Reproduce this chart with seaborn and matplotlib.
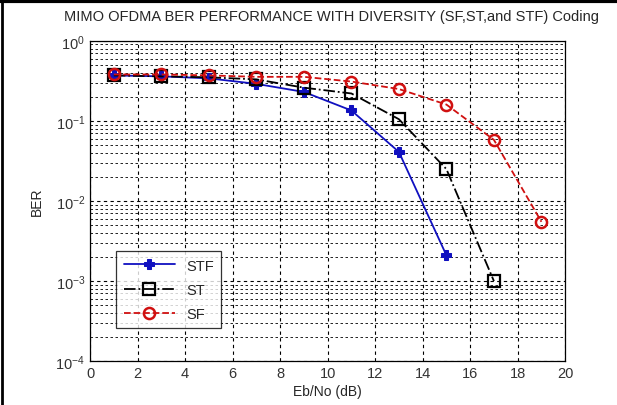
import numpy as np
import pandas as pd
import matplotlib
matplotlib.use('Agg')
import matplotlib.pyplot as plt
import seaborn as sns
from matplotlib.lines import Line2D

ebno = [1, 3, 5, 7, 9, 11, 13, 15, 17, 19]
ber_stf = [0.37, 0.36, 0.34, 0.29, 0.23, 0.135, 0.041, 0.0021]
ber_st = [0.37, 0.36, 0.35, 0.33, 0.26, 0.22, 0.105, 0.025, 0.001]
ber_sf = [0.38, 0.38, 0.37, 0.355, 0.355, 0.31, 0.25, 0.16, 0.058, 0.0055]

sns.set_style('white')
plt.rcParams['font.family'] = ['Liberation Sans', 'DejaVu Sans']
plt.rcParams['mathtext.fontset'] = 'custom'
plt.rcParams['mathtext.rm'] = 'Liberation Sans'
plt.rcParams['mathtext.it'] = 'Liberation Sans'

fig = plt.figure(figsize=(6.17, 4.06), dpi=100)
ax = fig.add_axes([0.146, 0.108, 0.77, 0.789])

stf = pd.DataFrame({'x': ebno[:len(ber_stf)], 'y': ber_stf})
st = pd.DataFrame({'x': ebno[:len(ber_st)], 'y': ber_st})
sf = pd.DataFrame({'x': ebno[:len(ber_sf)], 'y': ber_sf})

sns.lineplot(data=stf, x='x', y='y', ax=ax, color='#1010c0', linestyle='-',
             marker='P', markersize=7, markeredgecolor='#1010c0', lw=1.3, label='STF')
sns.lineplot(data=st, x='x', y='y', ax=ax, color='black', linestyle='-.',
             marker='s', markersize=8, markerfacecolor='none', markeredgecolor='black',
             markeredgewidth=1.6, lw=1.3, label='ST')
sns.lineplot(data=sf, x='x', y='y', ax=ax, color='#d01010', linestyle='--',
             marker='o', markersize=8, markerfacecolor='none', markeredgecolor='#d01010',
             markeredgewidth=1.8, lw=1.3, label='SF')

ax.set_yscale('log')
ax.set_xlim(0, 20)
ax.set_ylim(1e-4, 1)
ax.set_xticks(range(0, 21, 2))
ax.set_yticks([1e-4, 1e-3, 1e-2, 1e-1, 1])
ax.set_yticklabels(['$10^{-4}$', '$10^{-3}$', '$10^{-2}$', '$10^{-1}$', '$10^{0}$'])
ax.yaxis.set_minor_locator(matplotlib.ticker.LogLocator(base=10, subs=np.arange(2, 10)))
ax.yaxis.set_minor_formatter(matplotlib.ticker.NullFormatter())

ax.grid(True, which='major', axis='both', color='black', linestyle=(0, (3, 3)), lw=0.8)
ax.grid(True, which='minor', axis='y', color='black', linestyle=(0, (3, 3)), lw=0.6)
ax.tick_params(axis='both', which='both', direction='in', labelsize=10.5, colors='#333333')
for s in ax.spines.values():
    s.set_color('black')
    s.set_linewidth(0.9)

ax.set_xlabel('Eb/No (dB)', fontsize=10, labelpad=3)
ax.set_ylabel('BER', fontsize=10, labelpad=8)
fig.text(0.538, 0.958, 'MIMO OFDMA BER PERFORMANCE WITH DIVERSITY (SF,ST,and STF) Coding',
         ha='center', va='center', fontsize=10.5)

leg = ax.legend(loc='lower left', bbox_to_anchor=(0.04, 0.08), fontsize=10.5,
                frameon=True, fancybox=False, edgecolor='black', handlelength=3.5,
                borderpad=0.5, labelspacing=0.7)
leg.get_frame().set_linewidth(0.9)

fig.add_artist(Line2D([0, 1], [0.996, 0.996], color='black', lw=3, transform=fig.transFigure))
fig.add_artist(Line2D([0.003, 0.003], [0, 1], color='black', lw=2, transform=fig.transFigure))

fig.savefig('out.png', dpi=100)
